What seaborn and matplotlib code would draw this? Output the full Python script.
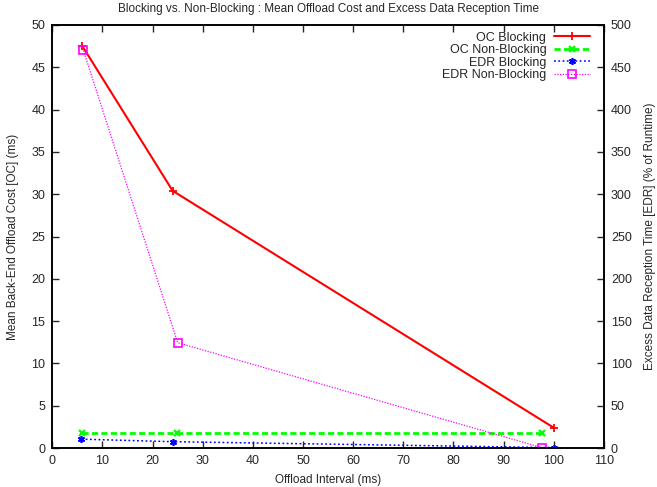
import matplotlib
matplotlib.use("Agg")
import matplotlib.pyplot as plt
import seaborn as sns
import numpy as np

sns.set_style("white")
plt.rcParams["font.family"] = ["Liberation Sans", "DejaVu Sans"]

# Offload interval (ms) and measurements
oc_block_x = [6.0, 24.0, 100.0]
oc_block_y = [47.5, 30.4, 2.4]

oc_nonblock_x = [6.0, 24.8, 97.6]
oc_nonblock_y = [1.75, 1.75, 1.75]

edr_block_x = [5.8, 24.0, 100.0]
edr_block_y = [10.5, 7.5, 0.5]

edr_nonblock_x = [6.2, 25.0, 97.6]
edr_nonblock_y = [470.0, 124.5, 0.5]

title = "Blocking vs. Non-Blocking : Mean Offload Cost and Excess Data Reception Time"
xlabel = "Offload Interval (ms)"
ylabel_left = "Mean Back-End Offload Cost [OC] (ms)"
ylabel_right = "Excess Data Reception Time [EDR] (% of Runtime)"

fig = plt.figure(figsize=(6.57, 4.87), dpi=100)
ax = fig.add_axes([0.0796, 0.080, 0.8396, 0.8687])
ax2 = ax.twinx()

sns.lineplot(x=oc_block_x, y=oc_block_y, ax=ax, color="#ff0000", lw=1.5,
             linestyle="-", marker="+", markersize=6, markeredgewidth=1.3,
             markeredgecolor="#ff0000", label="OC Blocking", legend=False)
sns.lineplot(x=oc_nonblock_x, y=oc_nonblock_y, ax=ax, color="#00ff00", lw=2.0,
             linestyle=(0, (2.2, 1.2)), marker="x", markersize=5,
             markeredgewidth=1.6, markeredgecolor="#00ff00",
             label="OC Non-Blocking", legend=False)
sns.lineplot(x=edr_block_x, y=edr_block_y, ax=ax2, color="#0000ff", lw=1.1,
             linestyle=(0, (1.2, 1.6)), marker=(6, 2, 0), markersize=5,
             markeredgewidth=1.2, markeredgecolor="#0000ff",
             label="EDR Blocking", legend=False)
sns.lineplot(x=edr_nonblock_x, y=edr_nonblock_y, ax=ax2, color="#ff00ff", lw=0.9,
             linestyle=(0, (1.0, 1.2)), marker="s", markersize=5.5,
             markerfacecolor="none", markeredgecolor="#ff00ff",
             markeredgewidth=1.2, label="EDR Non-Blocking", legend=False)

ax.set_xlim(0, 110)
ax.set_ylim(0, 50)
ax2.set_ylim(0, 500)
ax.set_xticks(np.arange(0, 111, 10))
ax.set_yticks(np.arange(0, 51, 5))
ax2.set_yticks(np.arange(0, 501, 50))

for a in (ax, ax2):
    for s in a.spines.values():
        s.set_visible(True)
        s.set_linewidth(1.2)
        s.set_color("black")

ax.tick_params(axis="x", direction="in", top=True, bottom=True, length=5,
               width=1, labelsize=9, pad=5)
ax.tick_params(axis="y", direction="in", left=True, right=False, length=5,
               width=1, labelsize=9, pad=5)
ax2.tick_params(axis="y", direction="in", right=True, left=False, length=5,
                width=1, labelsize=9, pad=5)

ax.set_xlabel(xlabel, fontsize=8.5, labelpad=5)
ax.set_ylabel(ylabel_left, fontsize=8.5, labelpad=9)
ax2.set_ylabel(ylabel_right, fontsize=8.5, labelpad=9)
ax.set_title(title, fontsize=8.5, pad=9)

handles = ax.get_lines() + ax2.get_lines()
ax2.legend(handles=handles, labels=[h.get_label() for h in handles],
           loc="upper right", bbox_to_anchor=(0.993, 1.008),
           markerfirst=False, frameon=False, fontsize=9,
           handlelength=2.9, handletextpad=0.6, labelspacing=0.05,
           borderaxespad=0.4)

fig.savefig("out.png", dpi=100)
